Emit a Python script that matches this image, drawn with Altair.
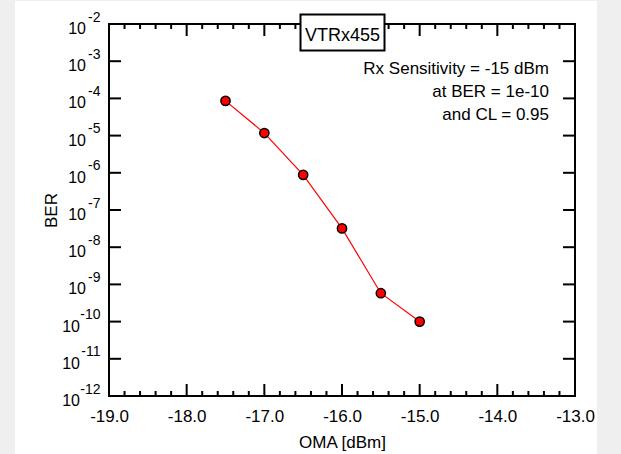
import altair as alt
import pandas as pd

# Measured BER versus optical modulation amplitude
oma_dbm = [-17.5, -17.0, -16.5, -16.0, -15.5, -15.0]
ber = [8.6e-5, 1.17e-5, 8.8e-7, 3.2e-8, 5.8e-10, 1.0e-10]

# Axis ticks
x_major = [-19.0, -18.0, -17.0, -16.0, -15.0, -14.0, -13.0]
x_minor = [round(m + 0.2 * k, 1) for m in x_major[:-1] for k in range(1, 5)]
y_exponents = [-2, -3, -4, -5, -6, -7, -8, -9, -10, -11, -12]

# Texts
module_name = "VTRx455"
note_lines = ["Rx Sensitivity = -15 dBm", "at BER = 1e-10", "and CL = 0.95"]
x_title = "OMA [dBm]"
y_title = "BER"

W, H = 466, 372
FONT = "Liberation Sans"
MAJOR, MINOR = 12, 5

xscale = alt.Scale(domain=[-19, -13], nice=False, zero=False)
yscale = alt.Scale(type="log", domain=[1e-12, 1e-2], nice=False)

x_axis = alt.Axis(
    title=x_title,
    values=x_major,
    labelExpr="replace(format(datum.value, '.1f'), '\u2212', '-')",
    ticks=False,
    tickSize=0,
    domain=False,
    grid=False,
    zindex=1,
    labelFont=FONT,
    labelFontSize=17,
    labelColor="black",
    labelPadding=25,
    labelBaseline="alphabetic",
    labelFlush=False,
    labelOverlap=False,
    titleFont=FONT,
    titleFontSize=17,
    titleFontWeight="normal",
    titleColor="black",
    titleX=W / 2,
    titleY=51,
    titleAlign="center",
    titleBaseline="alphabetic",
)
y_axis = alt.Axis(
    title=y_title,
    labels=False,
    ticks=False,
    domain=False,
    grid=False,
    zindex=1,
    titleFont=FONT,
    titleFontSize=17,
    titleFontWeight="normal",
    titleColor="black",
    titleAngle=270,
    titleX=-53,
    titleY=H / 2,
    titleAlign="center",
    titleBaseline="alphabetic",
)

one = pd.DataFrame({"k": [0]})
meas = pd.DataFrame({"oma": oma_dbm, "ber": ber})
xmaj = pd.DataFrame({"v": x_major})
xmin = pd.DataFrame({"v": x_minor})
ytk = pd.DataFrame({"e": y_exponents})

X = lambda f: alt.X(f, scale=xscale, axis=x_axis)
Y = lambda f: alt.Y(f, scale=yscale, axis=y_axis)

# white panel behind the plot
panel = alt.Chart(one).mark_rect(color="white").encode(
    x=alt.value(-94), x2=alt.value(488), y=alt.value(-23), y2=alt.value(440)
)

# inward ticks on all four sides
def x_ticks(df, length):
    bottom = alt.Chart(df).mark_rule(color="black", strokeWidth=2).encode(
        x=X("v:Q"), y=alt.value(H), y2=alt.value(H - length)
    )
    top = alt.Chart(df).mark_rule(color="black", strokeWidth=2).encode(
        x=X("v:Q"), y=alt.value(0), y2=alt.value(length)
    )
    return [bottom, top]

ytick_base = alt.Chart(ytk).transform_calculate(v="pow(10, datum.e)")
y_left = ytick_base.mark_rule(color="black", strokeWidth=2).encode(
    y=Y("v:Q"), x=alt.value(0), x2=alt.value(MAJOR)
)
y_right = ytick_base.mark_rule(color="black", strokeWidth=2).encode(
    y=Y("v:Q"), x=alt.value(W - MAJOR), x2=alt.value(W)
)

# y tick labels as 10 with a raised exponent
ylab = ytick_base.transform_calculate(exp="toString(datum.e)")
ten_1 = ylab.transform_filter("datum.e > -10").mark_text(
    text="10", align="right", baseline="alphabetic", dy=10, font=FONT, fontSize=16, color="black"
).encode(y=Y("v:Q"), x=alt.value(-23))
ten_2 = ylab.transform_filter("datum.e <= -10").mark_text(
    text="10", align="right", baseline="alphabetic", dy=10, font=FONT, fontSize=16, color="black"
).encode(y=Y("v:Q"), x=alt.value(-29))
expo = ylab.mark_text(
    align="right", baseline="alphabetic", dy=-2.5, font=FONT, fontSize=14, color="black"
).encode(y=Y("v:Q"), x=alt.value(-8.5), text="exp:N")

frame = alt.Chart(one).mark_rect(fill="transparent", stroke="black", strokeWidth=2).encode(
    x=alt.value(0), x2=alt.value(W), y=alt.value(0), y2=alt.value(H)
)

line = alt.Chart(meas).mark_line(color="#ff0000", strokeWidth=1.2).encode(
    x=X("oma:Q"), y=Y("ber:Q")
)

points = alt.Chart(meas).mark_circle(
    size=85, color="#ff0000", opacity=1, stroke="black", strokeWidth=1.5
).encode(x=X("oma:Q"), y=Y("ber:Q"))

name_box = alt.Chart(one).mark_rect(fill="white", stroke="black", strokeWidth=2).encode(
    x=alt.value(191.5), x2=alt.value(275.5), y=alt.value(-9.5), y2=alt.value(26.5)
)
name_text = alt.Chart(one).mark_text(
    text=module_name, align="center", baseline="alphabetic", font=FONT, fontSize=18, color="black"
).encode(x=alt.value(233.5), y=alt.value(16.5))

note = alt.Chart(one).mark_text(
    text=note_lines, align="right", baseline="alphabetic", font=FONT, fontSize=17,
    lineHeight=23.3, color="black"
).encode(x=alt.value(440), y=alt.value(49.7))

layers = [panel] + x_ticks(xmaj, MAJOR) + x_ticks(xmin, MINOR) + [
    y_left, y_right, ten_1, ten_2, expo, frame, line, points, name_box, name_text, note
]

chart = alt.layer(*layers).properties(
    width=W,
    height=H,
    padding={"left": 109, "top": 24, "right": 46, "bottom": 58},
    autosize=alt.AutoSizeParams(type="none"),
    background="#efefef",
).configure_view(strokeWidth=0)

chart.save("out.html", embed_options={"renderer": "svg", "actions": False})
